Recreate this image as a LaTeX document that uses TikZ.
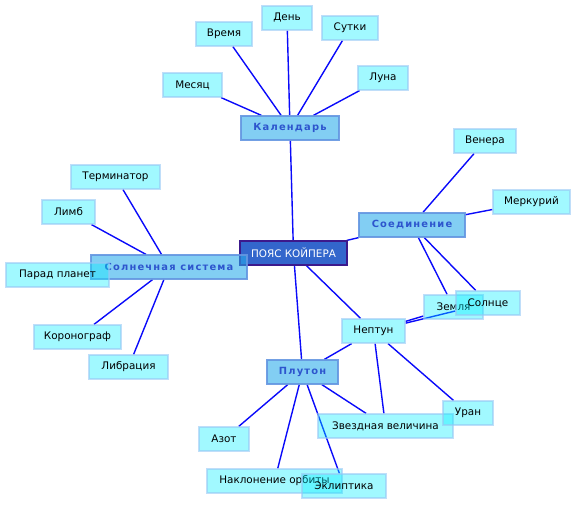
\documentclass[tikz,border=0pt]{standalone}
\usepackage{fontspec}
\setmainfont{DejaVu Sans}
\newfontfamily\catfont[LetterSpace=12]{DejaVu Sans Bold}
\usetikzlibrary{backgrounds}
\definecolor{leaffill}{RGB}{0,238,255}
\definecolor{leafdraw}{RGB}{150,200,245}
\definecolor{catfill}{RGB}{40,170,235}
\definecolor{catdraw}{RGB}{100,150,225}
\definecolor{cattext}{RGB}{45,85,205}
\definecolor{rootfill}{RGB}{51,102,204}
\definecolor{rootdraw}{RGB}{60,25,140}
\definecolor{edgecol}{RGB}{10,10,250}
\tikzset{
  leaf/.style={draw=leafdraw, draw opacity=0.6, fill=leaffill, fill opacity=0.37, text opacity=1,
    line width=1.2pt, minimum height=24pt, inner sep=0pt, font=\fontsize{10.4}{12}\selectfont},
  cat/.style={draw=catdraw, fill=catfill, fill opacity=0.58, draw opacity=0.9, text opacity=1,
    line width=1.2pt, minimum height=24pt, inner sep=0pt, text=cattext, font=\catfont\fontsize{9.9}{11}\selectfont},
  root/.style={draw=rootdraw, fill=rootfill, line width=1.2pt, minimum height=24pt, inner sep=0pt,
    text=white, font=\fontsize{10.4}{12}\selectfont},
  edge/.style={draw=edgecol, line width=1.4pt}
}
\begin{document}
\begin{tikzpicture}[x=1pt,y=-1pt]
\useasboundingbox (0,0) rectangle (576,505);
% root
\node[root, minimum width=107pt] (root) at (293.5,253) {ПОЯС КОЙПЕРА};
% Календарь group
\node[cat, minimum width=98pt] (kal) at (290,128) {Календарь};
\node[leaf, minimum width=56pt] (vremya) at (224,34) {Время};
\node[leaf, minimum width=50pt] (den) at (287,18) {День};
\node[leaf, minimum width=56pt] (sutki) at (350,28) {Сутки};
\node[leaf, minimum width=50pt] (luna) at (383,78) {Луна};
\node[leaf, minimum width=59pt] (mesyac) at (192.5,85) {Месяц};
% Соединение group
\node[cat, minimum width=106pt] (soed) at (412,225) {Соединение};
\node[leaf, minimum width=62pt] (venera) at (485,141) {Венера};
\node[leaf, minimum width=77pt] (merk) at (531.5,202) {Меркурий};
\node[leaf, minimum width=59pt] (zemlya) at (453.5,307) {Земля};
\node[leaf, minimum width=64pt] (solnce) at (488,303) {Солнце};
% Нептун / Плутон
\node[leaf, minimum width=63pt] (neptun) at (373.5,331) {Нептун};
\node[cat, minimum width=71pt] (pluton) at (302.5,372) {Плутон};
\node[leaf, minimum width=135pt] (zvezd) at (385.5,426) {Звездная величина};
\node[leaf, minimum width=50pt] (uran) at (468,413) {Уран};
\node[leaf, minimum width=50pt] (azot) at (224,439) {Азот};
\node[leaf, minimum width=135pt] (naklon) at (274.5,481) {Наклонение орбиты};
\node[leaf, minimum width=84pt] (eklip) at (344,486) {Эклиптика};
% Солнечная система group
\node[cat, minimum width=156pt] (solsys) at (169,267) {Солнечная система};
\node[leaf, minimum width=89pt] (termin) at (115.5,177) {Терминатор};
\node[leaf, minimum width=53pt] (limb) at (68.5,212) {Лимб};
\node[leaf, minimum width=103pt] (parad) at (57.5,275) {Парад планет};
\node[leaf, minimum width=87pt] (korono) at (77.5,337) {Коронограф};
\node[leaf, minimum width=79pt] (libr) at (128.5,367) {Либрация};
% edges
\begin{scope}[on background layer]
\path[edge] (root) -- (kal);
\path[edge] (root) -- (soed);
\path[edge] (root) -- (neptun);
\path[edge] (root) -- (pluton);
\path[edge] (root) -- (solsys);
\foreach \n in {vremya,den,sutki,luna,mesyac} \path[edge] (kal) -- (\n);
\foreach \n in {venera,merk,zemlya,solnce} \path[edge] (soed) -- (\n);
\foreach \n in {zemlya,solnce,pluton,zvezd,uran} \path[edge] (neptun) -- (\n);
\foreach \n in {azot,naklon,eklip,zvezd} \path[edge] (pluton) -- (\n);
\foreach \n in {termin,limb,korono,libr} \path[edge] (solsys) -- (\n);
\end{scope}
\end{tikzpicture}
\end{document}
